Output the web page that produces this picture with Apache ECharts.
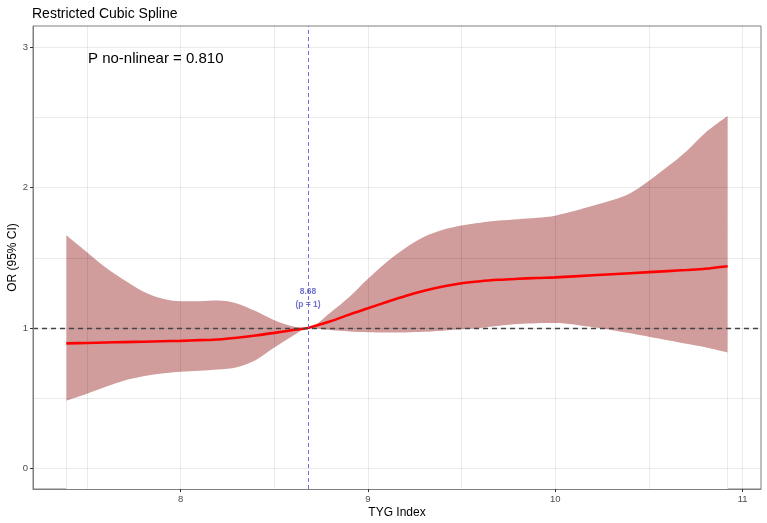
<!DOCTYPE html>
<html>
<head>
<meta charset="utf-8">
<script src="https://cdn.jsdelivr.net/npm/echarts@6/dist/echarts.min.js"></script>
<style>
html, body { margin: 0; padding: 0; background: #fff; }
#chart { width: 767px; height: 523px; }
</style>
</head>
<body>
<div id="chart"></div>
<script>
// values
var tyg = [7.39, 7.5, 7.6, 7.7, 7.8, 7.9, 8.0, 8.1, 8.2, 8.3, 8.4, 8.5, 8.6, 8.68,
           8.8, 8.9, 9.0, 9.1, 9.2, 9.3, 9.4, 9.5, 9.6, 9.7, 9.8, 9.9, 10.0,
           10.2, 10.4, 10.6, 10.7, 10.8, 10.92]
var or_fit = [0.89, 0.893, 0.896, 0.899, 0.902, 0.905, 0.908, 0.913, 0.918, 0.93, 0.946, 0.965, 0.985, 1.0,
              1.047, 1.095, 1.14, 1.185, 1.228, 1.265, 1.295, 1.318, 1.333, 1.343, 1.35, 1.356, 1.36,
              1.375, 1.39, 1.405, 1.413, 1.422, 1.44]
var or_lower = [0.48, 0.53, 0.58, 0.625, 0.655, 0.675, 0.687, 0.695, 0.703, 0.72, 0.77, 0.86, 0.945, 1.0,
                0.985, 0.975, 0.97, 0.968, 0.968, 0.972, 0.98, 0.99, 1.0, 1.015, 1.028, 1.034, 1.035,
                1.005, 0.962, 0.912, 0.887, 0.862, 0.825]
var or_upper = [1.66, 1.54, 1.43, 1.34, 1.26, 1.21, 1.19, 1.19, 1.195, 1.175, 1.12, 1.055, 1.01, 1.0,
                1.11, 1.22, 1.35, 1.47, 1.57, 1.65, 1.70, 1.73, 1.75, 1.765, 1.775, 1.785, 1.80,
                1.87, 1.96, 2.15, 2.26, 2.39, 2.51]

var x_ticks = [8, 9, 10, 11]
var y_ticks = [0, 1, 2, 3]
var x_grid = [7.5, 8, 8.5, 9, 9.5, 10, 10.5, 11]
var y_grid = [0, 0.5, 1, 1.5, 2, 2.5, 3]
var ref_x = 8.68
var ref_y = 1
var ref_label = '8.68\n(p = 1)'
var ref_label_y = 1.21
var p_text = 'P no-nlinear = 0.810'

function pairs(xs, ys) {
    var out = []
    for (var i = 0; i < xs.length; i++) {
        out.push([xs[i], ys[i]])
    }
    return out
}

var font = 'Liberation Sans, Arial, sans-serif'
var band_color = '#D09C9C'
var smooth = 0.3

var grid_lines = []
for (var i = 0; i < x_grid.length; i++) grid_lines.push({xAxis: x_grid[i]})
for (var j = 0; j < y_grid.length; j++) grid_lines.push({yAxis: y_grid[j]})

var axis_common = {
    type: 'value',
    z: 6,
    axisLine: {show: true, onZero: false, lineStyle: {color: '#7f7f7f', width: 1}},
    axisTick: {show: true, length: 3, lineStyle: {color: '#333'}},
    splitLine: {show: false},
    nameLocation: 'middle',
    nameMoveOverlap: false,
    nameTextStyle: {color: '#000', fontSize: 12, fontFamily: font}
}

var option = {
    animation: false,
    backgroundColor: '#fff',
    title: {
        text: 'Restricted Cubic Spline',
        left: 27,
        top: 2,
        textStyle: {fontSize: 14, fontWeight: 'normal', color: '#000', fontFamily: font}
    },
    graphic: [{
        type: 'text',
        left: 88,
        top: 51,
        style: {text: p_text, fontSize: 15, fill: '#000', fontFamily: font}
    }],
    grid: {
        left: 33, right: 6, top: 26, bottom: 34,
        outerBoundsMode: 'none', containLabel: false,
        show: true, borderColor: '#7f7f7f', borderWidth: 1,
        backgroundColor: 'transparent'
    },
    xAxis: Object.assign({}, axis_common, {
        min: 7.212, max: 11.098,
        name: 'TYG Index', nameGap: 18,
        axisTick: Object.assign({}, axis_common.axisTick, {customValues: x_ticks}),
        axisLabel: {customValues: x_ticks, color: '#4d4d4d', fontSize: 9.5, margin: 5, fontFamily: font}
    }),
    yAxis: Object.assign({}, axis_common, {
        min: -0.148, max: 3.152,
        name: 'OR (95% CI)', nameGap: 14,
        axisTick: Object.assign({}, axis_common.axisTick, {customValues: y_ticks}),
        axisLabel: {customValues: y_ticks, color: '#4d4d4d', fontSize: 9.5, margin: 5, fontFamily: font}
    }),
    series: [
        {
            name: 'upper', type: 'line', z: 1,
            data: pairs(tyg, or_upper),
            smooth: smooth, symbol: 'none',
            lineStyle: {width: 0, opacity: 0},
            areaStyle: {color: band_color, opacity: 1, origin: 'start'}
        },
        {
            name: 'lower', type: 'line', z: 2,
            data: pairs(tyg, or_lower),
            smooth: smooth, symbol: 'none',
            lineStyle: {width: 0, opacity: 0},
            areaStyle: {color: '#ffffff', opacity: 1, origin: 'start'},
            markLine: {
                z: 3, silent: true, symbol: ['none', 'none'],
                label: {show: false},
                lineStyle: {color: 'rgba(0,0,0,0.08)', type: 'solid', width: 1},
                data: grid_lines
            }
        },
        {
            name: 'OR', type: 'line', z: 4,
            data: pairs(tyg, or_fit),
            smooth: smooth, symbol: 'none',
            lineStyle: {color: '#ff0000', width: 2.6},
            markLine: {
                z: 5, silent: true, symbol: ['none', 'none'],
                label: {show: false},
                lineStyle: {color: '#444', type: [5, 4], width: 1.3},
                data: [{yAxis: ref_y}]
            }
        },
        {
            name: 'ref', type: 'scatter', z: 6,
            data: [[ref_x, ref_label_y]],
            symbolSize: 0,
            label: {
                show: true, position: 'inside', formatter: ref_label,
                color: '#4f4fbf', fontSize: 8.5, fontWeight: 'bold',
                lineHeight: 13, fontFamily: font
            },
            markLine: {
                z: 5, silent: true, symbol: ['none', 'none'],
                label: {show: false},
                lineStyle: {color: '#6f6fe8', type: [4, 3], width: 1},
                data: [{xAxis: ref_x}]
            }
        }
    ]
}

var chart = echarts.init(document.getElementById('chart'))
chart.setOption(option)
</script>
</body>
</html>
